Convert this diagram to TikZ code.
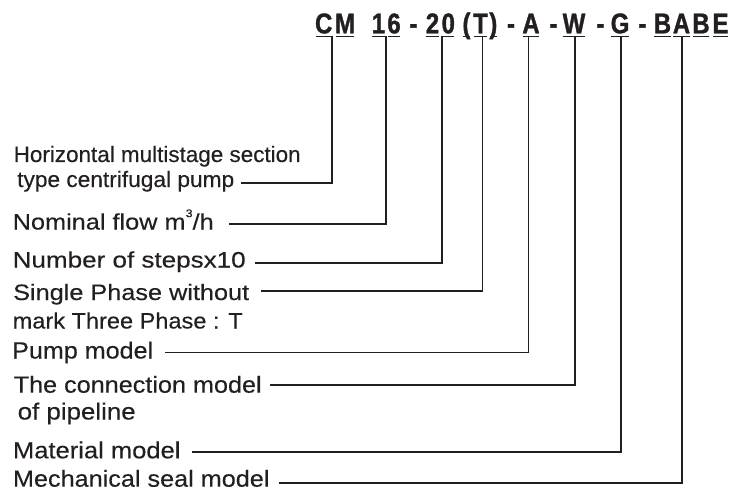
\documentclass[tikz,border=0pt]{standalone}
\usepackage{fontspec}
\setmainfont{Liberation Sans}[FakeBold=0.25]
\newfontfamily\codefont{Liberation Sans Bold}[FakeStretch=0.84,FakeBold=1.2]
\definecolor{ink}{RGB}{35,31,32}
\newsavebox\fitbox
\newlength\fitlen
\newcommand\fitw[2]{\sbox\fitbox{#2}\setlength\fitlen{\wd\fitbox}\pgfmathsetmacro\fitratio{#1/\fitlen}\scalebox{\fitratio}[1]{\usebox\fitbox}}
\newcommand\supthree{\raisebox{1.05ex}{\fontsize{11}{11}\selectfont 3}}
\tikzset{
  lbl/.style={anchor=base west, inner sep=0pt, text=ink, font=\fontsize{22.3}{26}\selectfont},
  lblb/.style={lbl, font=\fontsize{23.3}{26}\selectfont},
  codech/.style={anchor=base, inner sep=0pt, text=ink, font=\codefont\fontsize{28.5}{30}\selectfont},
  uline/.style={draw=ink, line width=1.3pt},
  conn/.style={draw=ink, line width=1.15pt},
}
\begin{document}
\begin{tikzpicture}[x=1pt,y=-1pt]
\useasboundingbox[fill=white] (0,0) rectangle (746,497);

% code characters
\node[codech] (cC)  at (323.7,33.3) {C};
\node[codech] (cM)  at (345.0,33.3) {M};
\node[codech] (c1)  at (378.5,33.3) {1};
\node[codech] (c6)  at (394.0,33.3) {6};
\node[codech] (h1)  at (413.3,33.3) {-};
\node[codech] (c2)  at (432.5,33.3) {2};
\node[codech] (c0)  at (448.3,33.3) {0};
\node[codech] (cpl) at (466.5,33.3) {(};
\node[codech] (cT)  at (480.5,33.3) {T};
\node[codech] (cpr) at (493.3,33.3) {)};
\node[codech] (h2)  at (511.0,33.3) {-};
\node[codech] (cA)  at (531.0,33.3) {A};
\node[codech] (h3)  at (553.5,33.3) {-};
\node[codech] (cW)  at (574.0,33.3) {W};
\node[codech] (h4)  at (600.3,33.3) {-};
\node[codech] (cG)  at (620.0,33.3) {G};
\node[codech] (h5)  at (642.3,33.3) {-};
\node[codech] (cB1) at (662.5,33.3) {B};
\node[codech] (cA2) at (681.5,33.3) {A};
\node[codech] (cB2) at (701.0,33.3) {B};
\node[codech] (cE)  at (720.5,33.3) {E};

\foreach \n in {cC,cM,c1,c6,c2,c0,cpl,cT,cpr,cA,cW,cG,cB1,cA2,cB2,cE}
  \draw[uline] ([shift={(0.8,2.9)}]\n.base west) -- ([shift={(-0.8,2.9)}]\n.base east);

% labels
\node[lbl]  (l1)  at (13.5,162)   {\fitw{287}{Horizontal multistage section}};
\node[lbl]  (l1b) at (17,187)     {\fitw{217}{type centrifugal pump}};
\node[lbl]  (l2)  at (12.5,229.5) {\fitw{201}{Nominal flow m\supthree/h}};
\node[lbl]  (l3)  at (12.5,267.5) {\fitw{233}{Number of stepsx10}};
\node[lbl]  (l4)  at (13,300)     {\fitw{236}{Single Phase without}};
\node[lbl]  (l4b) at (12.5,328.5) {\fitw{230}{mark Three Phase : T}};
\node[lblb] (l5)  at (12,358.5)   {\fitw{141}{Pump model}};
\node[lblb] (l6)  at (13.5,392.7) {\fitw{248}{The connection model}};
\node[lblb] (l6b) at (17.5,419.5) {\fitw{118}{of pipeline}};
\node[lblb] (l7)  at (12.8,458.3) {\fitw{167.5}{Material model}};
\node[lblb] (l8)  at (12.8,486.7) {\fitw{256.5}{Mechanical seal model}};

% connector ends
\coordinate (s1) at (241,183);   \coordinate (v1) at (332,36);
\coordinate (s2) at (229,224);   \coordinate (v2) at (386,36);
\coordinate (s3) at (255,263);   \coordinate (v3) at (442,36);
\coordinate (s4) at (261,291);   \coordinate (v4) at (482.3,36);
\coordinate (s5) at (165,352.5); \coordinate (v5) at (528.5,36);
\coordinate (s6) at (270,385);   \coordinate (v6) at (575,36);
\coordinate (s7) at (192,452);   \coordinate (v7) at (621,36);
\coordinate (s8) at (279,483);   \coordinate (v8) at (682,36);

\foreach \i in {1,...,8}
  \draw[conn] (s\i) -| (v\i);
\end{tikzpicture}
\end{document}
